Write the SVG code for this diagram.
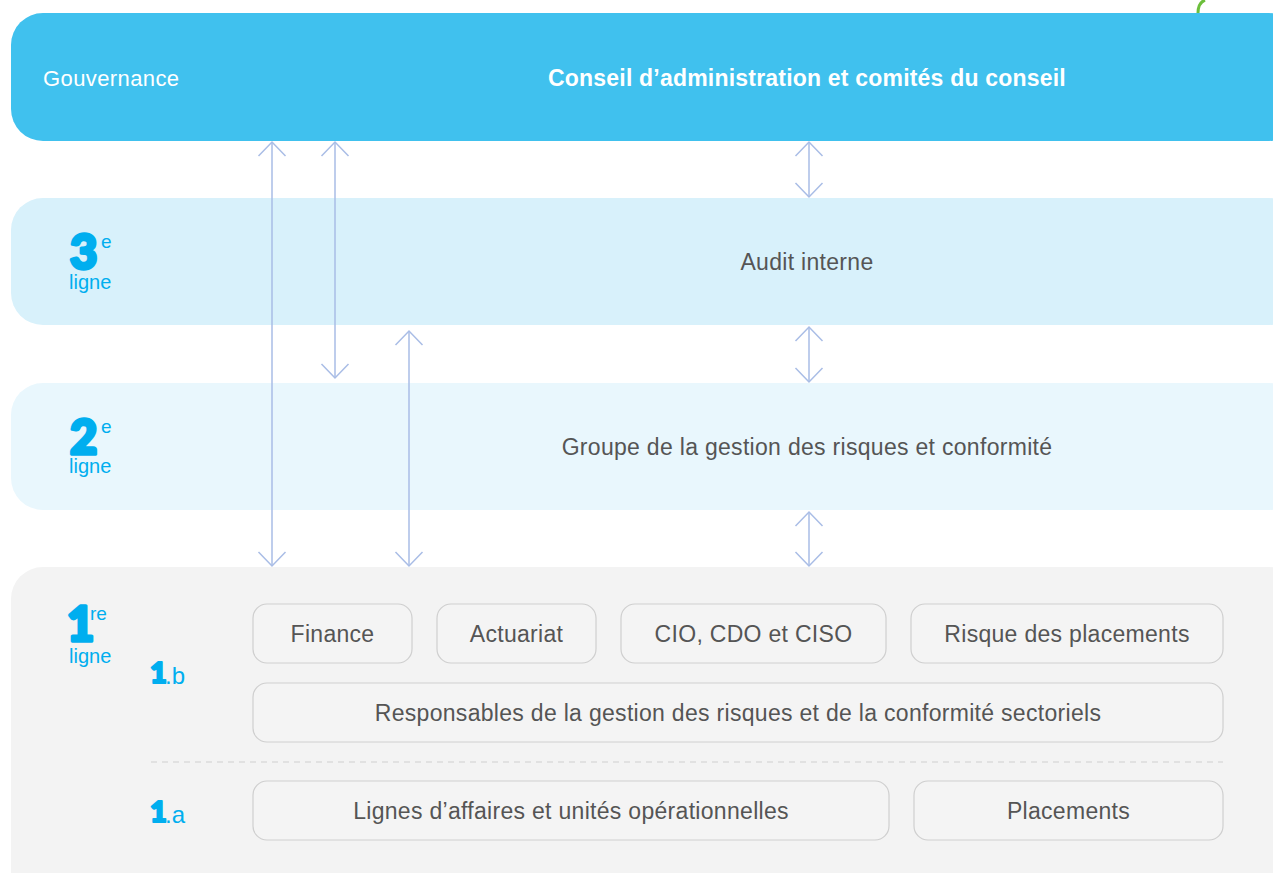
<svg xmlns="http://www.w3.org/2000/svg" width="1273" height="873" viewBox="0 0 1273 873">
<defs>
<style>
.t{font-family:"Liberation Sans",Arial,sans-serif;font-size:23px;letter-spacing:0.3px;fill:#555555;text-anchor:middle}
.box{fill:#f4f4f4;stroke:#cfcfcf;stroke-width:1.2}
.big{font-family:Lato,"Liberation Sans",sans-serif;font-weight:900;font-size:47px;fill:#00aeef;stroke:#00aeef;stroke-width:3.5;stroke-linejoin:round}
.sup{font-family:"Liberation Sans",Arial,sans-serif;font-size:19px;fill:#00aeef}
.lg{font-family:"Liberation Sans",Arial,sans-serif;font-size:20px;fill:#00aeef}
.sb{font-family:Lato,"Liberation Sans",sans-serif;font-weight:900;font-size:29px;fill:#00aeef;stroke:#00aeef;stroke-width:2.2;stroke-linejoin:round}
.sr{font-family:"Liberation Sans",Arial,sans-serif;font-size:24px;fill:#00aeef}
.c line,.c path{stroke:#a9bde6;stroke-width:1.5;fill:none}
</style>
</defs>
<rect width="1273" height="873" fill="#ffffff"/>
<path d="M1198 13 C1198 6 1200 2 1205 0" stroke="#6cbf3c" stroke-width="3" fill="none"/>
<g id="gouvernance">
<rect x="11" y="13" width="1290" height="128" rx="32" fill="#40c1ee"/>
<text x="43" y="86" style="font-family:'Liberation Sans',Arial,sans-serif;font-size:22px;letter-spacing:0.4px;fill:#ffffff">Gouvernance</text>
<text x="807" y="86" style="font-family:'Liberation Sans',Arial,sans-serif;font-weight:700;font-size:23px;letter-spacing:0.2px;fill:#ffffff;text-anchor:middle">Conseil d’administration et comités du conseil</text>
</g>
<g id="ligne3">
<rect x="11" y="198" width="1290" height="127" rx="32" fill="#d8f1fb"/>
<text x="70" y="269" class="big">3</text><text x="101" y="248" class="sup">e</text>
<text x="69" y="289" class="lg">ligne</text>
<text x="807" y="270" class="t">Audit interne</text>
</g>
<g id="ligne2">
<rect x="11" y="383" width="1290" height="127" rx="32" fill="#e9f7fd"/>
<text x="70" y="454" class="big">2</text><text x="101" y="433" class="sup">e</text>
<text x="69" y="473" class="lg">ligne</text>
<text x="807" y="455" class="t">Groupe de la gestion des risques et conformité</text>
</g>
<g id="ligne1">
<rect x="11" y="567" width="1290" height="340" rx="32" fill="#f3f3f3"/>
<text x="67" y="641" class="big">1</text><text x="90" y="620" class="sup">re</text>
<text x="69" y="663" class="lg">ligne</text>
<text x="150" y="683" class="sb">1</text><text x="165" y="684" class="sr">.b</text>
<text x="150" y="822" class="sb">1</text><text x="165" y="823" class="sr">.a</text>
<line x1="151" y1="762" x2="1223" y2="762" stroke="#d0d0d0" stroke-width="1.2" stroke-dasharray="6 5"/>
</g>
<g id="finance"><rect class="box" x="253" y="604" width="159" height="59" rx="14"/><text class="t" x="332.5" y="642">Finance</text></g>
<g id="actuariat"><rect class="box" x="437" y="604" width="159" height="59" rx="14"/><text class="t" x="516.5" y="642">Actuariat</text></g>
<g id="cio"><rect class="box" x="621" y="604" width="265" height="59" rx="14"/><text class="t" x="753.5" y="642">CIO, CDO et CISO</text></g>
<g id="risque"><rect class="box" x="911" y="604" width="312" height="59" rx="14"/><text class="t" x="1067" y="642">Risque des placements</text></g>
<g id="responsables"><rect class="box" x="253" y="683" width="970" height="59" rx="14"/><text class="t" x="738" y="721">Responsables de la gestion des risques et de la conformité sectoriels</text></g>
<g id="lignes"><rect class="box" x="253" y="781" width="636" height="59" rx="14"/><text class="t" x="571" y="819">Lignes d’affaires et unités opérationnelles</text></g>
<g id="placements"><rect class="box" x="914" y="781" width="309" height="59" rx="14"/><text class="t" x="1068.5" y="819">Placements</text></g>
<g class="c" id="connectors">
<line x1="272" y1="142" x2="272" y2="566"/><path d="M258.5 156 L272 142 L285.5 156 M258.5 552 L272 566 L285.5 552"/>
<line x1="335" y1="142" x2="335" y2="378"/><path d="M321.5 156 L335 142 L348.5 156 M321.5 364 L335 378 L348.5 364"/>
<line x1="409" y1="331" x2="409" y2="566"/><path d="M395.5 345 L409 331 L422.5 345 M395.5 552 L409 566 L422.5 552"/>
<line x1="809" y1="142" x2="809" y2="197"/><path d="M795.5 156 L809 142 L822.5 156 M795.5 183 L809 197 L822.5 183"/>
<line x1="809" y1="327" x2="809" y2="382"/><path d="M795.5 341 L809 327 L822.5 341 M795.5 368 L809 382 L822.5 368"/>
<line x1="809" y1="512" x2="809" y2="566"/><path d="M795.5 526 L809 512 L822.5 526 M795.5 552 L809 566 L822.5 552"/>
</g>
</svg>
